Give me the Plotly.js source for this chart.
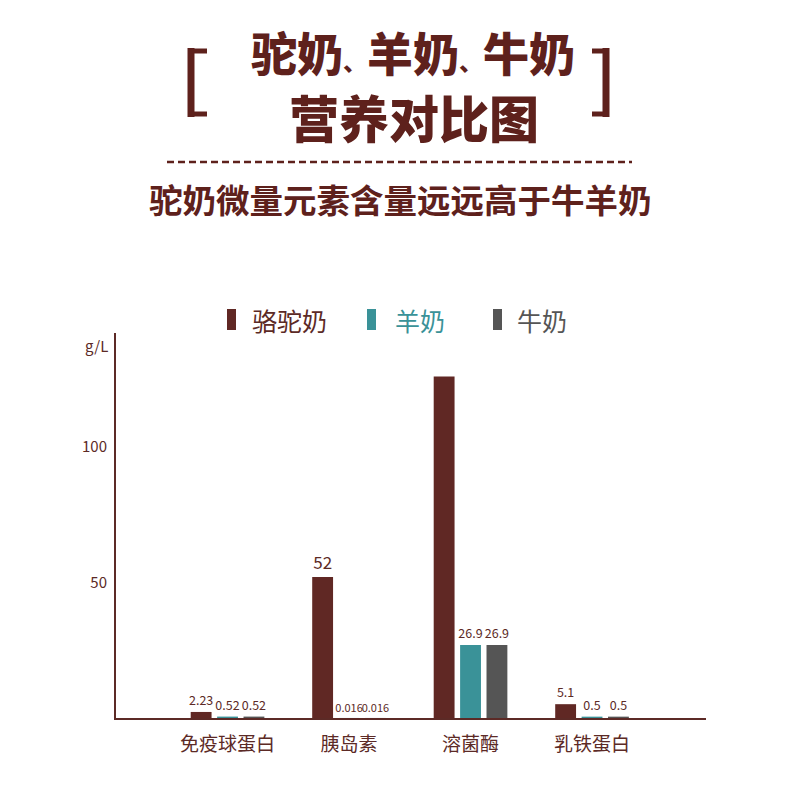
<!DOCTYPE html>
<html>
<head>
<meta charset="utf-8">
<script src="https://cdn.plot.ly/plotly-3.0.1.min.js"></script>
<style>
html,body{margin:0;padding:0;background:#fff;}
#chart{width:800px;height:800px;}
</style>
</head>
<body>
<div id="chart"></div>
<script>
// ---- data ----
var categories = ['免疫球蛋白', '胰岛素', '溶菌酶', '乳铁蛋白'];
var seriesNames = ['骆驼奶', '羊奶', '牛奶'];
var camelValues = [2.23, 52, 126, 5.1];
var goatValues = [0.52, 0.016, 26.9, 0.5];
var cowValues = [0.52, 0.016, 26.9, 0.5];
var camelLabelShown = [true, true, false, true];
var yTickVals = [50, 100];
var yUnit = 'g/L';
var titleLine1 = '驼奶、羊奶、牛奶';
var titleLine2 = '营养对比图';
var subtitle = '驼奶微量元素含量远远高于牛羊奶';

// ---- styling ----
var C_CAMEL = '#602824';
var C_GOAT = '#3a9298';
var C_COW = '#555555';
var C_TEXT = '#5c2a26';
var C_TITLE = '#5e211c';
var FONT = '"Noto Sans CJK SC", "Noto Sans", sans-serif';

// plot area in pixels
var L = 116, R = 706, T = 333, B = 718, W = 800, H = 800;
function px(X) { return (X - L) / (R - L); }
function py(Y) { return (B - Y) / (B - T); }

function labels(vals, shown) {
  return vals.map(function (v, i) { return (shown && !shown[i]) ? '' : String(v); });
}
function sizes(texts, vals) {
  return texts.map(function (t, i) {
    if (vals[i] >= 50) return 17;
    return t.length >= 5 ? 11 : 12.5;
  });
}

var colors = [C_CAMEL, C_GOAT, C_COW];
var allVals = [camelValues, goatValues, cowValues];
var traces = allVals.map(function (vals, k) {
  var txt = labels(vals, k === 0 ? camelLabelShown : null);
  return {
    type: 'bar',
    name: seriesNames[k],
    x: categories,
    y: vals,
    marker: { color: colors[k] },
    text: txt,
    textposition: 'outside',
    constraintext: 'none',
    textfont: { family: FONT, color: C_TEXT, size: sizes(txt, vals) },
    cliponaxis: false,
    hoverinfo: 'none'
  };
});

var shapes = [];
var annotations = [];

// brackets
function seg(x0, y0, x1, y1, w) {
  shapes.push({ type: 'line', xref: 'paper', yref: 'paper',
    x0: px(x0), y0: py(y0), x1: px(x1), y1: py(y1),
    line: { color: C_TITLE, width: w } });
}
seg(191, 48, 191, 117, 7);
seg(188, 51, 207, 51, 5);
seg(188, 114, 207, 114, 5);
seg(606, 48, 606, 117, 7);
seg(609, 51, 592, 51, 5);
seg(609, 114, 592, 114, 5);

// dashed rule
shapes.push({ type: 'line', xref: 'paper', yref: 'paper',
  x0: px(167), y0: py(162), x1: px(632), y1: py(162),
  line: { color: C_TITLE, width: 2.5, dash: '7px,4px' } });

// titles (narrow enumeration comma as in the reference)
var t1 = titleLine1.split('、').join('<span style="font-size:24px">、</span>');
annotations.push({ xref: 'paper', yref: 'paper', x: px(413), y: py(51),
  text: t1, showarrow: false, xanchor: 'center', yanchor: 'middle',
  font: { family: FONT, size: 46, color: C_TITLE, weight: 900 } });
annotations.push({ xref: 'paper', yref: 'paper', x: px(414), y: py(116),
  text: titleLine2, showarrow: false, xanchor: 'center', yanchor: 'middle',
  font: { family: FONT, size: 50, color: C_TITLE, weight: 900 } });
annotations.push({ xref: 'paper', yref: 'paper', x: px(400), y: py(198),
  text: subtitle, showarrow: false, xanchor: 'center', yanchor: 'middle',
  font: { family: FONT, size: 33.5, color: C_TITLE, weight: 700 } });

// custom legend
var legX = [227, 367, 493];
var legTextX = [250, 393, 515];
var legTextColor = [C_TEXT, C_GOAT, C_COW];
for (var k = 0; k < 3; k++) {
  shapes.push({ type: 'rect', xref: 'paper', yref: 'paper',
    x0: px(legX[k]), x1: px(legX[k] + 9), y0: py(309), y1: py(330),
    fillcolor: colors[k], line: { width: 0 } });
  annotations.push({ xref: 'paper', yref: 'paper', x: px(legTextX[k]), y: py(320),
    text: seriesNames[k], showarrow: false, xanchor: 'left', yanchor: 'middle',
    font: { family: FONT, size: 25, color: legTextColor[k] } });
}

// unit label
annotations.push({ xref: 'paper', yref: 'paper', x: px(110), y: py(345),
  text: yUnit, showarrow: false, xanchor: 'right', yanchor: 'middle',
  font: { family: FONT, size: 15, color: C_TEXT } });

var layout = {
  width: W, height: H,
  margin: { l: L, r: W - R, t: T, b: H - B, pad: 0 },
  paper_bgcolor: '#ffffff',
  plot_bgcolor: '#ffffff',
  showlegend: false,
  barmode: 'group',
  bargap: 0.348,
  bargroupgap: 0.21,
  xaxis: {
    type: 'category',
    range: [-0.918, 3.938],
    showgrid: false, zeroline: false,
    showline: true, linecolor: C_TEXT, linewidth: 2,
    ticks: '', ticklabelstandoff: 8,
    tickfont: { family: FONT, size: 19, color: C_TEXT },
    fixedrange: true
  },
  yaxis: {
    range: [0, 142.07],
    showgrid: false, zeroline: false,
    showline: true, linecolor: C_TEXT, linewidth: 2,
    ticks: '', tickvals: yTickVals, ticktext: yTickVals.map(String),
    ticklabelstandoff: 4,
    tickfont: { family: FONT, size: 15, color: C_TEXT },
    fixedrange: true
  },
  shapes: shapes,
  annotations: annotations
};

Plotly.newPlot('chart', traces, layout, { displayModeBar: false, staticPlot: true });
</script>
</body>
</html>
